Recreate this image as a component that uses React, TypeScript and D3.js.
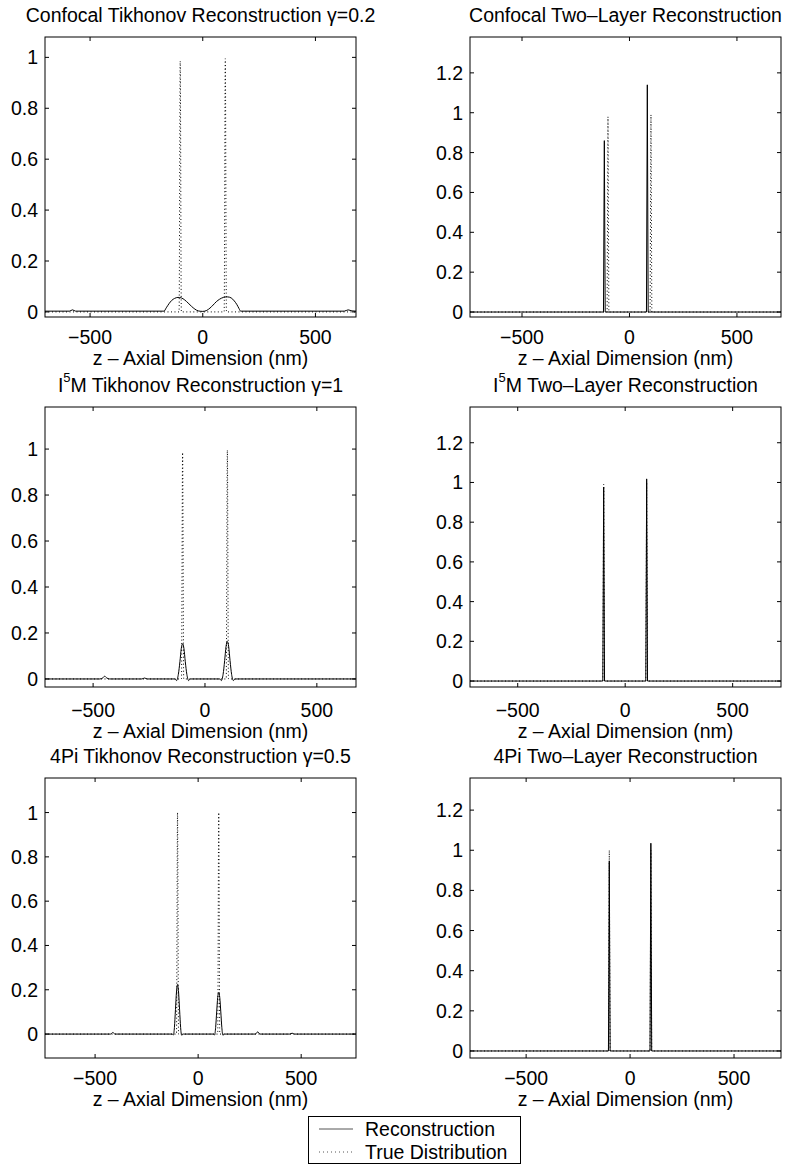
import React from 'react';
import * as d3 from 'd3';

// z (nm) , value pairs
const confocalTikhonovRecon: [number, number][] = [
  [-700, 0.003], [-592, 0.003], [-578, 0.008], [-564, 0.003], [-172, 0.003],
  [-162, 0.016], [-150, 0.032], [-138, 0.045], [-125, 0.053], [-110, 0.057],
  [-95, 0.055], [-80, 0.047], [-65, 0.035], [-50, 0.022], [-35, 0.011],
  [-20, 0.004], [0, 0.002], [18, 0.006], [32, 0.015], [46, 0.027], [60, 0.04],
  [75, 0.05], [92, 0.057], [110, 0.059], [126, 0.055], [140, 0.043],
  [152, 0.028], [161, 0.013], [168, 0.003], [628, 0.003], [645, 0.008],
  [662, 0.004], [680, 0.003]
];
const confocalTikhonovTrue: [number, number][] = [
  [-700, 0], [-105, 0], [-100, 0.985], [-95, 0], [95, 0], [100, 0.995], [105, 0], [680, 0]
];

const confocalTwoLayerRecon: [number, number][] = [
  [-742, 0], [-121, 0], [-117, 0.86], [-113, 0], [79, 0], [83, 1.14], [87, 0], [705, 0]
];
const confocalTwoLayerTrue: [number, number][] = [
  [-742, 0], [-104, 0], [-100, 0.98], [-96, 0], [96, 0], [100, 0.99], [104, 0], [705, 0]
];

const i5mTikhonovRecon: [number, number][] = [
  [-715, 0], [-470, 0], [-456, 0.005], [-448, 0.012], [-440, 0.005], [-426, 0],
  [-282, 0], [-270, 0.004], [-258, 0], [-134, 0], [-127, -0.007], [-119, 0.02],
  [-112, 0.075], [-106, 0.132], [-100, 0.153], [-94, 0.132], [-88, 0.075],
  [-81, 0.02], [-73, -0.007], [-66, 0], [66, 0], [73, -0.007], [81, 0.02],
  [88, 0.08], [94, 0.14], [100, 0.163], [106, 0.14], [112, 0.08], [119, 0.02],
  [127, -0.007], [134, 0], [675, 0]
];
const i5mTikhonovTrue: [number, number][] = [
  [-715, 0], [-105, 0], [-100, 0.985], [-95, 0], [95, 0], [100, 0.995], [105, 0], [675, 0]
];

const i5mTwoLayerRecon: [number, number][] = [
  [-722, 0], [-104, 0], [-100, 0.977], [-96, 0], [96, 0], [100, 1.018], [104, 0], [725, 0]
];
const i5mTwoLayerTrue: [number, number][] = [
  [-722, 0], [-104, 0], [-100, 0.99], [-96, 0], [96, 0], [100, 1.0], [104, 0], [725, 0]
];

const fourPiTikhonovRecon: [number, number][] = [
  [-743, 0], [-425, 0], [-414, 0.007], [-403, 0], [-126, 0], [-120, -0.004],
  [-115, 0.03], [-110, 0.11], [-105, 0.19], [-100, 0.224], [-95, 0.19],
  [-90, 0.11], [-85, 0.03], [-80, -0.005], [-72, 0], [74, 0], [80, -0.004],
  [85, 0.03], [90, 0.1], [95, 0.165], [100, 0.188], [105, 0.165], [110, 0.1],
  [115, 0.03], [120, -0.005], [128, 0], [278, 0], [289, 0.01], [300, 0],
  [445, 0], [456, 0.004], [467, 0], [766, 0]
];
const fourPiTikhonovTrue: [number, number][] = [
  [-743, 0], [-105, 0], [-100, 1.0], [-95, 0], [95, 0], [100, 1.0], [105, 0], [766, 0]
];

const fourPiTwoLayerRecon: [number, number][] = [
  [-770, 0], [-104, 0], [-100, 0.945], [-96, 0], [96, 0], [100, 1.035], [104, 0], [726, 0]
];
const fourPiTwoLayerTrue: [number, number][] = [
  [-770, 0], [-104, 0], [-100, 1.0], [-96, 0], [96, 0], [100, 1.0], [104, 0], [726, 0]
];

const xTicks = [-500, 0, 500];
const yTicksTikhonov = [0, 0.2, 0.4, 0.6, 0.8, 1];
const yTicksTwoLayer = [0, 0.2, 0.4, 0.6, 0.8, 1, 1.2];
const legendLabels = ['Reconstruction', 'True Distribution'];

const FONT = '"Liberation Sans", Arial, Helvetica, sans-serif';
const FS = 19.5;

type PanelProps = {
  id: string;
  title: React.ReactNode;
  box: [number, number, number, number]; // x0, x1, y0, y1
  xDomain: [number, number];
  yDomain: [number, number];
  yTicks: number[];
  recon: [number, number][];
  truth: [number, number][];
  smooth: boolean;
  labelGap?: number;
};

function Panel(p: PanelProps) {
  const [x0, x1, y0, y1] = p.box;
  const gap = p.labelGap ?? 0;
  const x = d3.scaleLinear().domain(p.xDomain).range([x0, x1]);
  const y = d3.scaleLinear().domain(p.yDomain).range([y1, y0]);
  const line = d3.line<[number, number]>()
    .x(d => x(d[0]))
    .y(d => y(d[1]))
    .curve(p.smooth ? d3.curveMonotoneX : d3.curveLinear);
  const tl = 4;
  const fmtX = (v: number) => (v < 0 ? '\u2212' + Math.abs(v) : String(v));
  const fmtY = (v: number) => String(+v.toFixed(1));
  return (
    <g>
      <clipPath id={p.id}>
        <rect x={x0} y={y0} width={x1 - x0} height={y1 - y0} />
      </clipPath>
      <rect x={x0} y={y0} width={x1 - x0} height={y1 - y0} fill="white" />
      <g clipPath={`url(#${p.id})`}>
        <path d={line(p.truth) || ''} fill="none" stroke="#000" strokeWidth={1}
          strokeDasharray="1 2.5" />
        <path d={line(p.recon) || ''} fill="none" stroke="#000" strokeWidth={1} />
      </g>
      {xTicks.map(t => (
        <g key={'x' + t}>
          <line x1={x(t)} x2={x(t)} y1={y1} y2={y1 - tl} stroke="#000" />
          <line x1={x(t)} x2={x(t)} y1={y0} y2={y0 + tl} stroke="#000" />
          <text x={x(t)} y={y1 + 20 + gap} textAnchor="middle" dominantBaseline="central"
            fontFamily={FONT} fontSize={FS}>{fmtX(t)}</text>
        </g>
      ))}
      {p.yTicks.map(t => (
        <g key={'y' + t}>
          <line x1={x0} x2={x0 + tl} y1={y(t)} y2={y(t)} stroke="#000" />
          <line x1={x1} x2={x1 - tl} y1={y(t)} y2={y(t)} stroke="#000" />
          <text x={x0 - 7} y={y(t)} textAnchor="end" dominantBaseline="central"
            fontFamily={FONT} fontSize={FS}>{fmtY(t)}</text>
        </g>
      ))}
      <rect x={x0} y={y0} width={x1 - x0} height={y1 - y0} fill="none" stroke="#000" strokeWidth={1} />
      <text x={(x0 + x1) / 2} y={y0 - 22} textAnchor="middle" dominantBaseline="central"
        fontFamily={FONT} fontSize={FS}>{p.title}</text>
      <text x={(x0 + x1) / 2} y={y1 + 41 + gap} textAnchor="middle" dominantBaseline="central"
        fontFamily={FONT} fontSize={FS}>z – Axial Dimension (nm)</text>
    </g>
  );
}

const I5M = (rest: string) => (
  <>
    I<tspan dy={-8} fontSize={13}>5</tspan><tspan dy={8}>{rest}</tspan>
  </>
);

export default function App() {
  const L: [number, number] = [45, 356];
  const R: [number, number] = [470, 781];
  const rowTop: [number, number] = [37, 317];
  const rowMid: [number, number] = [407, 687];
  const rowBot: [number, number] = [778, 1058];
  return (
    <svg width={790} height={1164} style={{ position: 'absolute', left: 0, top: 0, background: 'white' }}>
      <rect width={790} height={1164} fill="white" />
      <Panel id="c1" title="Confocal Tikhonov Reconstruction γ=0.2" box={[...L, ...rowTop]}
        xDomain={[-700, 680]} yDomain={[-0.02, 1.08]} yTicks={yTicksTikhonov}
        recon={confocalTikhonovRecon} truth={confocalTikhonovTrue} smooth />
      <Panel id="c2" title="Confocal Two–Layer Reconstruction" box={[...R, ...rowTop]}
        xDomain={[-742, 705]} yDomain={[-0.025, 1.38]} yTicks={yTicksTwoLayer}
        recon={confocalTwoLayerRecon} truth={confocalTwoLayerTrue} smooth={false} />
      <Panel id="c3" title={I5M('M Tikhonov Reconstruction γ=1')} box={[...L, ...rowMid]}
        xDomain={[-715, 675]} yDomain={[-0.035, 1.183]} yTicks={yTicksTikhonov}
        recon={i5mTikhonovRecon} truth={i5mTikhonovTrue} smooth labelGap={3} />
      <Panel id="c4" title={I5M('M Two–Layer Reconstruction')} box={[...R, ...rowMid]}
        xDomain={[-722, 725]} yDomain={[-0.03, 1.38]} yTicks={yTicksTwoLayer}
        recon={i5mTwoLayerRecon} truth={i5mTwoLayerTrue} smooth={false} labelGap={3} />
      <Panel id="c5" title="4Pi Tikhonov Reconstruction γ=0.5" box={[...L, ...rowBot]}
        xDomain={[-743, 766]} yDomain={[-0.108, 1.156]} yTicks={yTicksTikhonov}
        recon={fourPiTikhonovRecon} truth={fourPiTikhonovTrue} smooth />
      <Panel id="c6" title="4Pi Two–Layer Reconstruction" box={[...R, ...rowBot]}
        xDomain={[-770, 726]} yDomain={[-0.035, 1.36]} yTicks={yTicksTwoLayer}
        recon={fourPiTwoLayerRecon} truth={fourPiTwoLayerTrue} smooth={false} />

      {/* legend */}
      <g>
        <rect x={308.5} y={1116.5} width={212} height={47} fill="white" stroke="#000" strokeWidth={1} />
        {legendLabels.map((lab, i) => (
          <g key={lab}>
            <line x1={319} x2={353} y1={1129 + i * 23} y2={1129 + i * 23} stroke="#555"
              strokeWidth={1} strokeDasharray={i === 1 ? '1 3' : undefined} />
            <text x={365} y={1129 + i * 23} dominantBaseline="central" fontFamily={FONT} fontSize={FS}>{lab}</text>
          </g>
        ))}
      </g>
    </svg>
  );
}
